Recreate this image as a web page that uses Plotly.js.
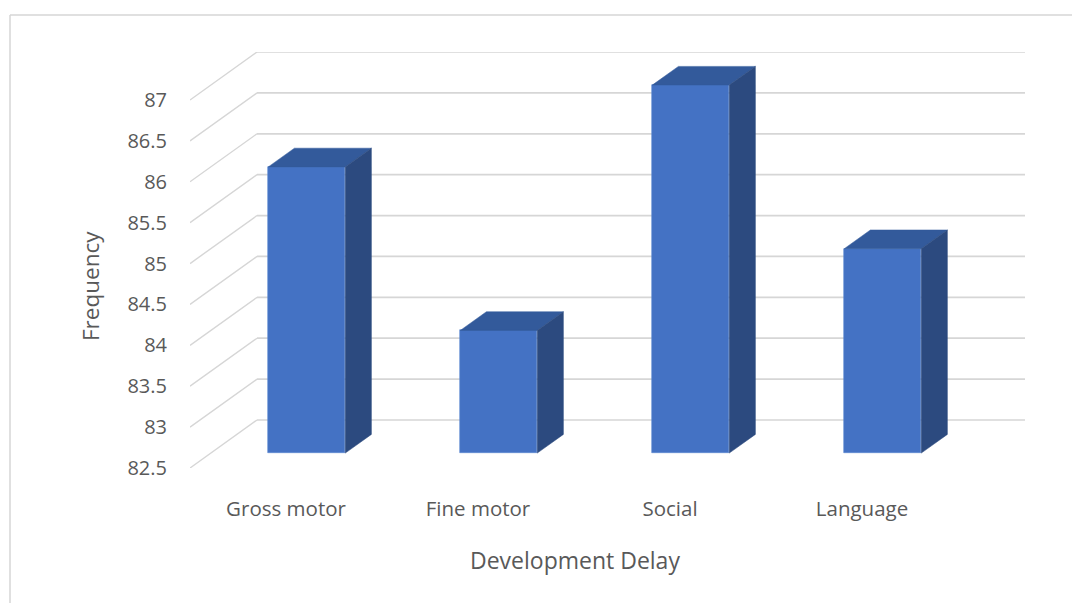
<!DOCTYPE html>
<html>
<head>
<meta charset="utf-8">
<script src="https://cdn.plot.ly/plotly-3.0.1.min.js"></script>
<style>html,body{margin:0;padding:0;background:#fff;}#chart{width:1072px;height:603px;}</style>
</head>
<body>
<div id="chart"></div>
<script>
// ---- data ----
const categories = ["Gross motor", "Fine motor", "Social", "Language"];
const values = [86, 84, 87, 85];
const yTicks = [82.5, 83, 83.5, 84, 84.5, 85, 85.5, 86, 86.5, 87];
const yTickLabels = ["82.5", "83", "83.5", "84", "84.5", "85", "85.5", "86", "86.5", "87"];
const xTitle = "Development Delay";
const yTitle = "Frequency";

// ---- pseudo-3D geometry (axis units) ----
const yMin = 82.5;
const wallDx = 0.349, wallDy = 0.587;      // depth of back wall
const fFront = 0.31, fBack = 0.70;        // bar front / back depth fraction
const barW = 0.401;
const grid = '#d6d6d6';

const frontColor = '#4472C4', topColor = '#335a9b', sideColor = '#2c4a7f';

const xs = categories.map((c, i) => i + fFront * wallDx);
const baseY = yMin + fFront * wallDy;
const ddx = (fBack - fFront) * wallDx, ddy = (fBack - fFront) * wallDy;

const traces = [];
// top and side faces
categories.forEach((c, i) => {
  const v = values[i] + fFront * wallDy;
  const xl = xs[i] - barW / 2, xr = xs[i] + barW / 2;
  traces.push({
    type: 'scatter', mode: 'lines', fill: 'toself', fillcolor: topColor,
    line: {width: 0.5, color: topColor}, hoverinfo: 'skip', showlegend: false,
    x: [xl, xr, xr + ddx, xl + ddx, xl], y: [v, v, v + ddy, v + ddy, v]
  });
  traces.push({
    type: 'scatter', mode: 'lines', fill: 'toself', fillcolor: sideColor,
    line: {width: 0.5, color: sideColor}, hoverinfo: 'skip', showlegend: false,
    x: [xr, xr, xr + ddx, xr + ddx, xr], y: [baseY, v, v + ddy, baseY + ddy, baseY]
  });
});
// front faces
traces.push({
  type: 'bar', x: xs, y: values.map(v => v - yMin), base: baseY,
  width: barW, marker: {color: frontColor, line: {width: 0.6, color: '#5b86d1'}},
  text: categories, hovertemplate: '%{text}: %{customdata}<extra></extra>',
  customdata: values, showlegend: false, textposition: 'none'
});

// gridlines: back wall + diagonals
const shapes = [];
yTicks.forEach(t => {
  shapes.push({type: 'line', layer: 'below', xref: 'x', yref: 'y',
    x0: -0.5 + wallDx, x1: 3.5 + wallDx, y0: t + wallDy, y1: t + wallDy,
    line: {color: grid, width: 1.7}});
  shapes.push({type: 'line', layer: 'below', xref: 'x', yref: 'y',
    x0: -0.5, x1: -0.5 + wallDx, y0: t, y1: t + wallDy,
    line: {color: grid, width: 1.4}});
});
// chart area border (left and top)
const L = 190, W = 835, T = 52, H = 416;
const px = p => (p - L) / W, py = p => (T + H - p) / H;
shapes.push({type: 'line', xref: 'paper', yref: 'paper', x0: px(10), x1: px(10), y0: py(15), y1: py(610), line: {color: grid, width: 1.5}});
shapes.push({type: 'line', xref: 'paper', yref: 'paper', x0: px(10), x1: px(1080), y0: py(15), y1: py(15), line: {color: grid, width: 1.5}});

const font = {family: '"Open Sans", "Noto Sans", sans-serif', color: '#595959'};

const layout = {
  width: 1072, height: 603,
  margin: {l: L, r: 1072 - L - W, t: T, b: 603 - T - H, pad: 0},
  paper_bgcolor: '#fff', plot_bgcolor: 'rgba(0,0,0,0)',
  showlegend: false,
  xaxis: {range: [-0.5, 3.5 + wallDx], tickvals: [0, 1, 2, 3], ticktext: categories,
    showgrid: false, zeroline: false, showline: false, ticks: '',
    ticklabelstandoff: 26, tickfont: Object.assign({size: 20.5}, font), fixedrange: true},
  yaxis: {range: [yMin, 87 + wallDy], tickvals: yTicks, ticktext: yTickLabels,
    showgrid: false, zeroline: false, showline: false, ticks: '',
    ticklabelstandoff: 22, tickfont: Object.assign({size: 20}, font), fixedrange: true},
  shapes: shapes,
  annotations: [
    {text: xTitle, xref: 'paper', yref: 'paper', x: px(575), y: py(560),
     showarrow: false, font: Object.assign({size: 23}, font), xanchor: 'center', yanchor: 'middle'},
    {text: yTitle, xref: 'paper', yref: 'paper', x: px(90), y: py(286), textangle: -90,
     showarrow: false, font: Object.assign({size: 22.5}, font), xanchor: 'center', yanchor: 'middle'}
  ],
  bargap: 0
};

Plotly.newPlot('chart', traces, layout, {displayModeBar: false, staticPlot: false});
</script>
</body>
</html>
